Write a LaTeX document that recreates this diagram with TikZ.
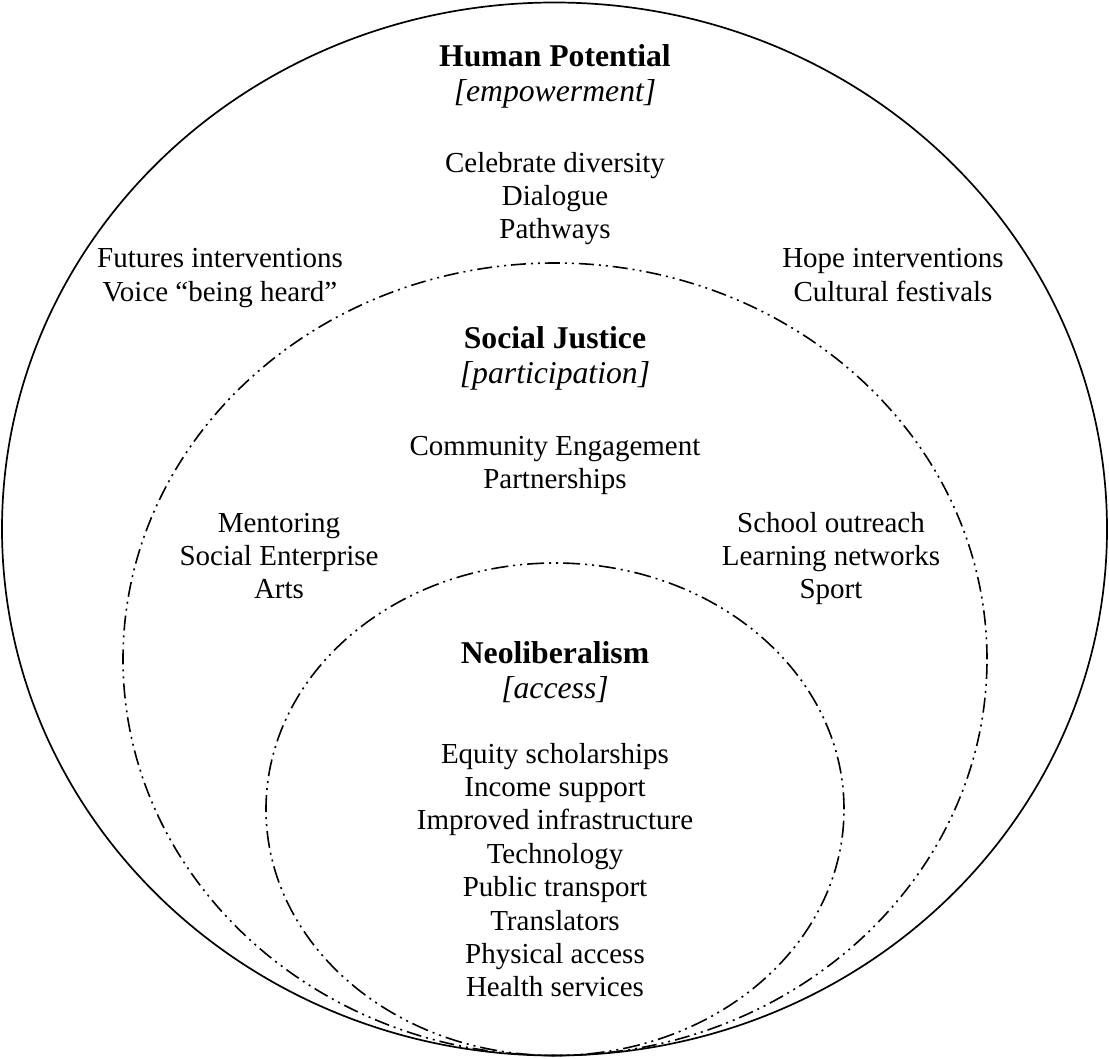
\documentclass[tikz,border=0pt]{standalone}
\usepackage{fontspec}
\setmainfont{Liberation Serif}
\begin{document}
\begin{tikzpicture}[x=1pt,y=-1pt,
  body/.style={align=center, inner sep=0pt, anchor=base, font=\fontsize{29}{33.4}\selectfont},
  head/.style={align=center, inner sep=0pt, anchor=base, font=\fontsize{31.7}{34.5}\selectfont},
  ring/.style={line width=1.7pt},
  dring/.style={line width=1.6pt, dash pattern=on 15pt off 5pt on 2pt off 5pt on 2pt off 5pt}]
\useasboundingbox (0,0) rectangle (1109,1059);
% rings
\draw[ring] (554.5,529) ellipse [x radius=552.5pt, y radius=526.5pt];
\draw[dring] (555,659.25) ellipse [x radius=432pt, y radius=396.25pt];
\draw[dring, dash pattern=on 17pt off 5pt on 2pt off 5pt on 2pt off 5pt] (555,809.25) ellipse [x radius=289pt, y radius=246.25pt];
% (base anchor of a multi-line node = baseline of its last line)
% outer ring texts
\node[head] (hp) at (555,101.5) {{\bfseries Human Potential}\\{\itshape [empowerment]}};
\node[body] (cd) at (555,239) {Celebrate diversity\\Dialogue\\Pathways};
\node[body] (fi) at (220,301.4) {Futures interventions\\Voice “being heard”};
\node[body] (hi) at (893,301.4) {Hope interventions\\Cultural festivals};
% middle ring texts
\node[head] (sj) at (555,383.5) {{\bfseries Social Justice}\\{\itshape [participation]}};
\node[body] (ce) at (555,488.5) {Community Engagement\\Partnerships};
\node[body] (me) at (279,598.8) {Mentoring\\Social Enterprise\\Arts};
\node[body] (so) at (831,598.8) {School outreach\\Learning networks\\Sport};
% inner ring texts
\node[head] (nl) at (555,698) {{\bfseries Neoliberalism}\\{\itshape [access]}};
\node[body] (eq) at (555,996.8) {Equity scholarships\\Income support\\Improved infrastructure\\Technology\\Public transport\\Translators\\Physical access\\Health services};
\end{tikzpicture}
\end{document}
